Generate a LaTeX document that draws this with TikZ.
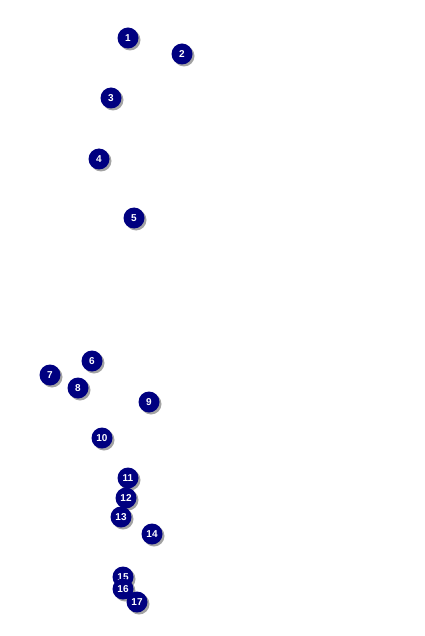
\documentclass[tikz,border=0pt]{standalone}
\usepackage{fontspec}
\setsansfont{Liberation Sans}
\usetikzlibrary{shadows}
\begin{document}
\begin{tikzpicture}[
		x=1pt, y=-1pt,
		marker/.style={circle, fill={rgb,255:red,0;green,0;blue,128}, minimum size=21pt, inner sep=0pt,
			text=white, font=\sffamily\bfseries\fontsize{10}{11}\selectfont,
			drop shadow={shadow xshift=2pt, shadow yshift=-2pt, fill=black!45, opacity=0.8}}
	]
		\useasboundingbox (0,0) rectangle (424,636);
		\foreach \i/\x/\y in {1/128/38, 2/182/54, 3/111/98, 4/99/159, 5/134/218,
			6/92/361, 7/50/375, 8/78/388, 9/149/402, 10/102/438,
			11/128/478, 12/126/498, 13/121/517, 14/152/534,
			15/123/577, 16/123/589, 17/137/602} {
			\node[marker] (m\i) at (\x,\y) {\i};
		}
	\end{tikzpicture}
\end{document}
